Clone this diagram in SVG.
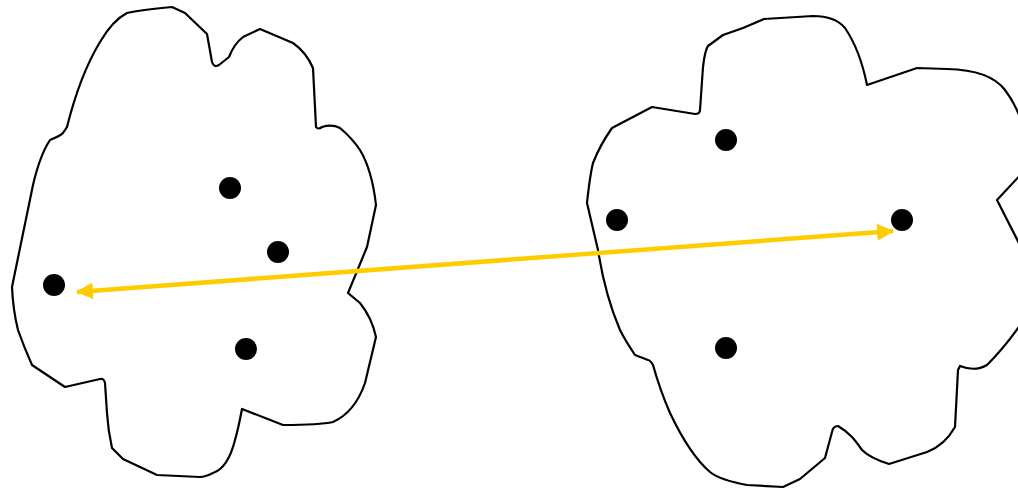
<svg xmlns="http://www.w3.org/2000/svg" width="1018" height="493" viewBox="0 0 1018 493">
<style>
.blob{fill:#fff;stroke:#000;stroke-width:2.2;stroke-linejoin:round}
.dot{fill:#000}
.conn{stroke:#FFCC00;stroke-width:4.5;fill:none}
</style>
<defs>
<marker id="ah" viewBox="0 0 17 17" refX="16" refY="8.5" markerWidth="17" markerHeight="17" markerUnits="userSpaceOnUse" orient="auto-start-reverse">
<path d="M0,0 L17,8.5 L0,17 Z" fill="#FFCC00"/>
</marker>
</defs>
<rect width="1018" height="493" fill="#fff"/>
<g id="cluster-left">
<path class="blob" d="M172,7 L185,13 L207,34 L212,62 Q214,68 219,65 L229,57 Q234,44 243,37 L260,29 L293,43 Q306,52 313,68 L316,127 Q318,130 322,127 Q332,124 340,128 Q352,138 360,150 Q372,170 376,205 L367,247 L348,293 L360,303 Q372,318 376,337 L365,383 Q355,412 333,422 Q320,425 283,425 L242,409 Q238,430 235,440 Q228,468 213,473 Q205,477 200,477 L157,475 L123,459 L112,448 Q108,430 107,413 L105,383 Q104,378 100,379 L65,387 L32,365 Q24,347 18,330 Q13,310 12,287 L33,185 Q40,155 50,140 Q60,136 63,133 L67,127 Q80,75 100,42 Q113,20 127,13 Q140,10 172,7 Z"/>
<circle class="dot" cx="230" cy="188" r="11"/>
<circle class="dot" cx="278" cy="252" r="11"/>
<circle class="dot" cx="54" cy="285" r="11"/>
<circle class="dot" cx="246" cy="349" r="11"/>
</g>
<g id="cluster-right">
<path class="blob" d="M764,19 Q780,18 813,16 Q835,16 845,28 Q860,50 867,85 L917,68 L947,69 Q990,70 1005,90 Q1020,110 1025,135 L1025,170 L997,200 L1025,255 L1025,318 Q1007,345 987,365 Q975,372 960,366 L958,370 L955,427 Q945,445 927,452 L889,464 Q870,458 862,450 Q855,440 852,437 Q845,430 838,426 Q833,426 832,432 L825,458 L800,479 L783,487 L747,485 Q720,480 710,472 Q690,455 670,413 Q660,390 653,365 Q650,360 648,360 L635,355 Q625,340 620,330 Q605,295 598,250 L587,203 Q590,175 593,163 Q600,145 612,128 L652,107 L695,114 Q700,114 700,110 L703,67 Q705,50 708,46 L723,35 L743,28 Z"/>
<circle class="dot" cx="726" cy="140" r="11"/>
<circle class="dot" cx="617" cy="220" r="11"/>
<circle class="dot" cx="902" cy="220" r="11"/>
<circle class="dot" cx="726" cy="348" r="11"/>
</g>
<g id="connectors">
<path class="conn" d="M77,292 L893,231" marker-start="url(#ah)" marker-end="url(#ah)"/>
</g>
</svg>
